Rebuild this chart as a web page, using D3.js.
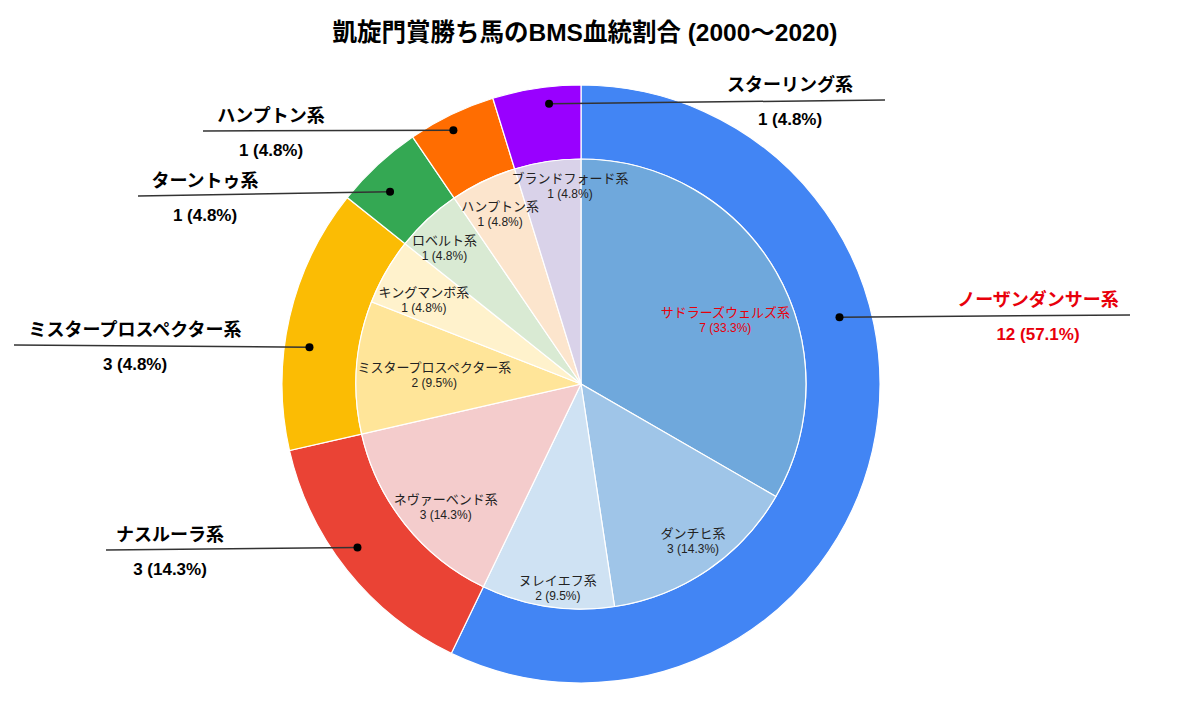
<!DOCTYPE html>
<html>
<head>
    <meta charset="utf-8">
    <title>凱旋門賞 BMS</title>
    <script src="https://cdn.jsdelivr.net/npm/d3@7"></script>
    <style>
        body { margin: 0; background: #fff; }
        text { font-family: "Liberation Sans", Arial, "Noto Sans CJK JP", sans-serif; }
    </style>
</head>
<body>
    <script>
        // outer ring: BMS sire lines
        var outerNames = ['ノーザンダンサー系', 'ナスルーラ系', 'ミスタープロスペクター系', 'ターントゥ系', 'ハンプトン系', 'スターリング系'];
        var outerValues = [12, 3, 3, 1, 1, 1];
        var outerPercents = ['57.1%', '14.3%', '4.8%', '4.8%', '4.8%', '4.8%'];
        var outerColors = ['#4285f4', '#ea4335', '#fbbc04', '#34a853', '#ff6d01', '#9900ff'];

        // inner pie: sub lines
        var innerNames = ['サドラーズウェルズ系', 'ダンチヒ系', 'ヌレイエフ系', 'ネヴァーベンド系', 'ミスタープロスペクター系', 'キングマンボ系', 'ロベルト系', 'ハンプトン系', 'ブランドフォード系'];
        var innerValues = [7, 3, 2, 3, 2, 1, 1, 1, 1];
        var innerPercents = ['33.3%', '14.3%', '9.5%', '14.3%', '9.5%', '4.8%', '4.8%', '4.8%', '4.8%'];
        var innerColors = ['#6fa8dc', '#9fc5e8', '#cfe2f3', '#f4cccc', '#ffe599', '#fff2cc', '#d9ead3', '#fce5cd', '#d9d2e9'];

        var highlight = '#e8000b';

        var width = 1179, height = 702;
        var cx = 581, cy = 384;
        var rOuter = 299, rInner = 225;

        // label placement (angle in degrees clockwise from top, radius)
        var outerLabelPos = [
            { a: 75.5, r: 267, endX: 1130, endY: 315, textX: 1038 },
            { a: 233.8, r: 277, endX: 106, endY: 550, textX: 170 },
            { a: 277.7, r: 274, endX: 14, endY: 345, textX: 135 },
            { a: 315.2, r: 271, endX: 138, endY: 196, textX: 205 },
            { a: 333.3, r: 284, endX: 203, endY: 131, textX: 271 },
            { a: 353.5, r: 282, endX: 885, endY: 100, textX: 790 }
        ];
        var innerLabelPos = [
            { a: 66, r: 158 }, { a: 144.5, r: 193 }, { a: 186.5, r: 205 },
            { a: 227.7, r: 183 }, { a: 273.5, r: 147 }, { a: 298, r: 178 },
            { a: 315, r: 193 }, { a: 334.5, r: 188 }, { a: 356.8, r: 198 }
        ];

        var svg = d3.select('body')
            .append('svg')
            .attr('width', width)
            .attr('height', height);

        svg.append('text')
            .attr('x', 585)
            .attr('y', 41)
            .attr('text-anchor', 'middle')
            .attr('font-size', 24.5)
            .attr('font-weight', 'bold')
            .attr('fill', '#000')
            .text('凱旋門賞勝ち馬のBMS血統割合 (2000〜2020)');

        var pie = d3.pie().sort(null).value(function (d) { return d; });

        var g = svg.append('g').attr('transform', 'translate(' + cx + ',' + cy + ')');

        var outerArc = d3.arc().innerRadius(rInner).outerRadius(rOuter);
        var innerArc = d3.arc().innerRadius(0).outerRadius(rInner);

        g.selectAll('path.outer')
            .data(pie(outerValues))
            .enter().append('path')
            .attr('class', 'outer')
            .attr('d', outerArc)
            .attr('fill', function (d, i) { return outerColors[i]; })
            .attr('stroke', '#fff')
            .attr('stroke-width', 1.2);

        g.selectAll('path.inner')
            .data(pie(innerValues))
            .enter().append('path')
            .attr('class', 'inner')
            .attr('d', innerArc)
            .attr('fill', function (d, i) { return innerColors[i]; })
            .attr('stroke', '#fff')
            .attr('stroke-width', 1.2);

        function polar(a, r) {
            var t = a * Math.PI / 180;
            return [r * Math.sin(t), -r * Math.cos(t)];
        }

        // inner labels
        innerNames.forEach(function (name, i) {
            var p = polar(innerLabelPos[i].a, innerLabelPos[i].r);
            var col = i === 0 ? highlight : '#222';
            var t = g.append('text')
                .attr('text-anchor', 'middle')
                .attr('fill', col);
            t.append('tspan').attr('x', p[0]).attr('y', p[1] - 3)
                .attr('font-size', 13).text(name);
            t.append('tspan').attr('x', p[0]).attr('y', p[1] + 12)
                .attr('font-size', 12).text(innerValues[i] + ' (' + innerPercents[i] + ')');
        });

        // outer labels with leader lines
        outerNames.forEach(function (name, i) {
            var L = outerLabelPos[i];
            var p = polar(L.a, L.r);
            var px = cx + p[0], py = cy + p[1];
            var col = i === 0 ? highlight : '#000';
            svg.append('line')
                .attr('x1', px).attr('y1', py)
                .attr('x2', L.endX).attr('y2', L.endY)
                .attr('stroke', '#333')
                .attr('stroke-width', 1.5);
            svg.append('circle')
                .attr('cx', px).attr('cy', py)
                .attr('r', 4)
                .attr('fill', '#000');
            svg.append('text')
                .attr('x', L.textX).attr('y', L.endY - 9)
                .attr('text-anchor', 'middle')
                .attr('font-size', 18)
                .attr('font-weight', 'bold')
                .attr('fill', col)
                .text(name);
            svg.append('text')
                .attr('x', L.textX).attr('y', L.endY + 25)
                .attr('text-anchor', 'middle')
                .attr('font-size', 17)
                .attr('font-weight', 'bold')
                .attr('fill', col)
                .text(outerValues[i] + ' (' + outerPercents[i] + ')');
        });
    </script>
</body>
</html>
